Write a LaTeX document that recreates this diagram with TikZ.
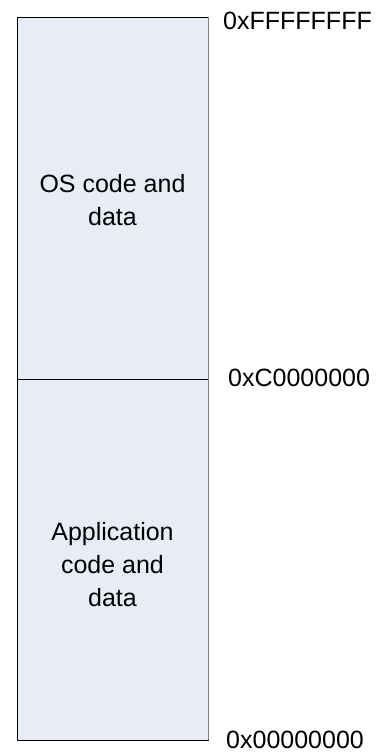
\documentclass[tikz,border=0pt]{standalone}
\usepackage{fontspec}
\setmainfont{Liberation Sans}
\usepackage{tikz}
\usetikzlibrary{positioning}
\definecolor{memfill}{RGB}{231,236,247}

\begin{document}
\begin{tikzpicture}[x=1pt,y=-1pt,every node/.style={inner sep=0pt,font=\fontsize{25}{33}\selectfont}]
  \useasboundingbox (0,0) rectangle (384,755);
  \fill[memfill] (17,17) rectangle (208,740);
  \draw[line width=1pt] (17,17) rectangle (208,740);
  \draw[line width=1pt] (17,379)--(208,379);
  \draw[gray,line width=1pt] (208,17)--(208,740);
  \node[align=center] (os) at (112.5,200) {OS code and\\data};
  \node[align=center] (app) at (112.5,565) {Application\\code and\\data};
  \foreach \x/\y/\a in {223/29/FFFFFFFF,228/386/C0000000,226/748/00000000}
    \node[anchor=base west] (addr\a) at (\x,\y) {0x\a};
\end{tikzpicture}
\end{document}
